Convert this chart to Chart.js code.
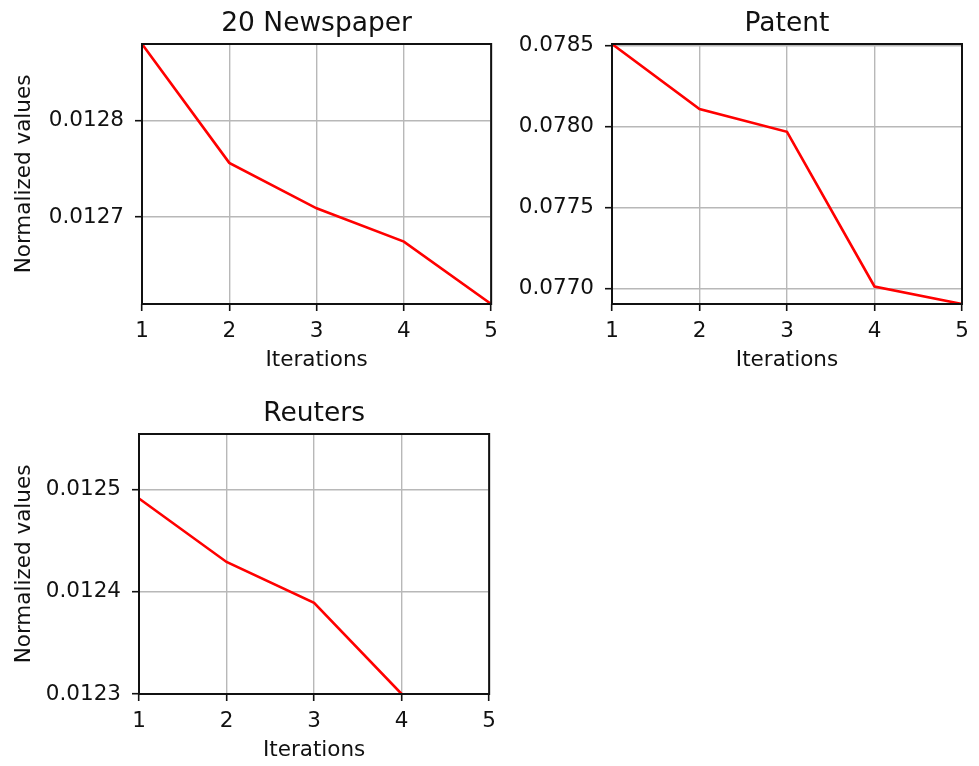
<!DOCTYPE html>
<html>
<head>
<meta charset="utf-8">
<script src="https://cdn.jsdelivr.net/npm/chart.js@4.4.1/dist/chart.umd.min.js"></script>
<style>
  html, body { margin: 0; padding: 0; background: #fff; overflow: hidden; }
  body { width: 979px; height: 766px; position: relative; }
  .panel { position: absolute; }
</style>
</head>
<body>
<div class="panel" style="left:0px;top:0px;width:506px;height:385px"><canvas id="c1" width="506" height="385"></canvas></div>
<div class="panel" style="left:495px;top:0px;width:484px;height:385px"><canvas id="c2" width="484" height="385"></canvas></div>
<div class="panel" style="left:0px;top:390px;width:504px;height:385px"><canvas id="c3" width="504" height="385"></canvas></div>
<script>
// Iteration numbers shared by all three panels
const iterations = ['1', '2', '3', '4', '5'];

// Normalized values per dataset
const newspaperValues = [0.012879, 0.012756, 0.012709, 0.0126745, 0.012610];
const patentValues    = [0.078511, 0.078110, 0.077969, 0.077014, 0.076906];
const reutersValues   = [0.012491, 0.012429, 0.012389, 0.012300];

// Y tick positions per panel
const newspaperTicks = [0.0127, 0.0128];
const patentTicks    = [0.0770, 0.0775, 0.0780, 0.0785];
const reutersTicks   = [0.0123, 0.0124, 0.0125];

// Y axis limits per panel
const newspaperRange = [0.012610, 0.012879];
const patentRange    = [0.076906, 0.078511];
const reutersRange   = [0.012300, 0.012554];

const FONT = 'DejaVu Sans';

// Draws the full black frame around the plotting area
const framePlugin = {
  id: 'frame',
  afterDraw(chart) {
    const a = chart.chartArea;
    const ctx = chart.ctx;
    ctx.save();
    ctx.strokeStyle = '#111';
    ctx.lineWidth = 2;
    ctx.strokeRect(a.left, a.top, a.right - a.left, a.bottom - a.top);
    ctx.restore();
  }
};

function makePanel(id, title, values, ticks, range, yWidth, padRight, showYTitle) {
  new Chart(document.getElementById(id), {
    type: 'line',
    data: {
      labels: iterations,
      datasets: [{
        data: values,
        borderColor: '#ff0000',
        borderWidth: 2.6,
        pointRadius: 0,
        tension: 0,
        fill: false
      }]
    },
    options: {
      responsive: false,
      animation: false,
      events: [],
      layout: { padding: { left: 0, right: padRight, top: 0, bottom: 0 } },
      plugins: {
        legend: { display: false },
        tooltip: { enabled: false },
        title: {
          display: true,
          text: title,
          fullSize: false,
          color: '#111',
          font: { family: FONT, size: 26.5, weight: 'normal', lineHeight: 1.2 },
          padding: { top: 8, bottom: 4.2 }
        }
      },
      scales: {
        x: {
          type: 'category',
          offset: false,
          grid: {
            offset: false,
            color: '#b8b8b8',
            lineWidth: 1.4,
            tickColor: '#111',
            tickLength: 7,
            tickWidth: 1.6
          },
          border: { display: false },
          ticks: {
            color: '#111',
            padding: 8,
            maxRotation: 0,
            autoSkip: false,
            font: { family: FONT, size: 21.5 }
          },
          title: {
            display: true,
            text: 'Iterations',
            color: '#111',
            font: { family: FONT, size: 21.5, lineHeight: 1.2 },
            padding: { top: 0, bottom: 12 }
          },
          afterFit(scale) { scale.height = 81; }
        },
        y: {
          type: 'linear',
          min: range[0],
          max: range[1],
          afterBuildTicks(scale) {
            scale.ticks = ticks.map(v => ({ value: v }));
          },
          grid: {
            color: '#b8b8b8',
            lineWidth: 1.4,
            tickColor: '#111',
            tickLength: 7,
            tickWidth: 1.6
          },
          border: { display: false },
          ticks: {
            color: '#111',
            padding: 11,
            font: { family: FONT, size: 21.5 },
            callback: v => Number(v).toFixed(4)
          },
          title: {
            display: showYTitle,
            text: 'Normalized values',
            color: '#111',
            font: { family: FONT, size: 21.5, lineHeight: 1.2 },
            padding: { top: 12, bottom: 0 }
          },
          afterFit(scale) { scale.width = yWidth; }
        }
      }
    },
    plugins: [framePlugin]
  });
}

makePanel('c1', '20 Newspaper', newspaperValues, newspaperTicks, newspaperRange, 142, 9, true);
makePanel('c2', 'Patent', patentValues, patentTicks, patentRange, 117, 17, false);
makePanel('c3', 'Reuters', reutersValues, reutersTicks, reutersRange, 139, 11, true);
</script>
</body>
</html>
